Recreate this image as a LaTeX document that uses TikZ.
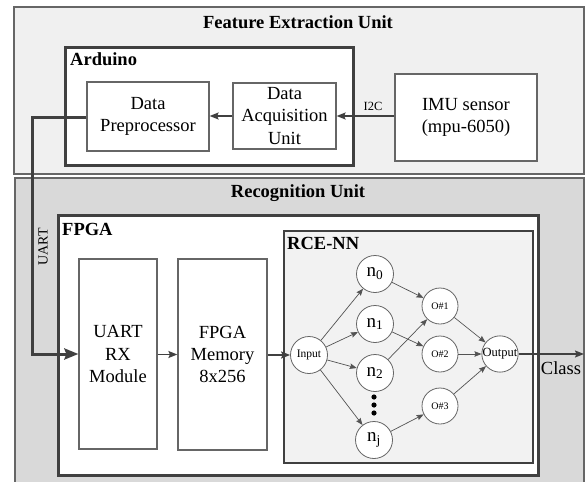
\documentclass[tikz,border=0pt]{standalone}
\usepackage{fontspec}
\setmainfont{Liberation Serif}
\usetikzlibrary{arrows.meta}
\definecolor{fextfill}{HTML}{F0F0F0}
\definecolor{recfill}{HTML}{D9D9D9}
\definecolor{nnfill}{HTML}{F2F2F2}
\definecolor{darkline}{HTML}{404040}
\definecolor{midline}{HTML}{666666}
\begin{document}
\begin{tikzpicture}[x=1pt,y=-1pt,
  txt/.style={font=\fontsize{18.5}{22.2}\selectfont, align=center},
  ttl/.style={font=\fontsize{18.5}{22}\selectfont\bfseries, inner sep=0pt},
  region/.style={draw=midline, line width=1.1pt},
  hw/.style={draw=darkline, line width=3pt, fill=white},
  blk/.style={draw=midline, line width=1.2pt, fill=white, inner sep=0pt, txt},
  neur/.style={circle, draw=midline, line width=0.8pt, fill=white, minimum size=37pt, inner sep=0pt},
  flow/.style={draw=darkline, line width=1.4pt, -{Stealth[length=9pt,width=7pt,inset=1.5pt]}},
  nnarrow/.style={draw=darkline!90, line width=0.7pt, -{Stealth[length=7pt,width=5.5pt,inset=1pt]}},
]
\useasboundingbox (0,0) rectangle (587,482);

% --- Feature Extraction Unit ---
\draw[region, fill=fextfill] (14,7) rectangle (584,174);
\node[ttl, anchor=base] (fetitle) at (298,28) {Feature Extraction Unit};

\draw[hw] (65,47) rectangle (353,165);
\node[ttl, anchor=base west] (ardtitle) at (70,65) {Arduino};

\node[blk, minimum width=122pt, minimum height=69pt] (dp) at (148,116.5) {Data\\Preprocessor};
\node[blk, minimum width=103pt, minimum height=66pt] (daq) at (284.5,116) {Data\\Acquisition\\Unit};
\node[blk, minimum width=142pt, minimum height=87pt] (imu) at (466,117.5) {IMU sensor\\(mpu-6050)};

\draw[flow] (imu.west |- daq.east) -- (daq.east);
\draw[flow] (daq.west) -- (dp.east |- daq.west);
\node[font=\fontsize{12.5}{14}\selectfont, anchor=base] (i2c) at (373,110) {I2C};

% --- Recognition Unit ---
\draw[region, fill=recfill] (15,178) -- (15,490) -- (584,490) -- (584,178) -- cycle;
\node[ttl, anchor=base] (rectitle) at (298,197) {Recognition Unit};

\draw[hw] (58,215) rectangle (538,475);
\node[ttl, anchor=base west] (fpgatitle) at (62,235) {FPGA};

\node[blk, minimum width=78pt, minimum height=190pt] (uartrx) at (118,354) {UART\\RX\\Module};
\node[blk, minimum width=89pt, minimum height=191pt] (mem) at (222.5,354.5) {FPGA\\Memory\\8x256};

\draw[draw=darkline, line width=2pt, fill=nnfill] (284,231) rectangle (533,463);
\node[ttl, anchor=base west] (nntitle) at (287,249) {RCE-NN};

% neurons
\node[neur, font=\fontsize{11.5}{13}\selectfont] (in) at (309,355) {Input};
\node[neur, font=\fontsize{19}{22}\selectfont] (n0) at (375,274) {n\textsubscript{0}};
\node[neur, font=\fontsize{19}{22}\selectfont] (n1) at (375,324) {n\textsubscript{1}};
\node[neur, font=\fontsize{19}{22}\selectfont] (n2) at (375,373) {n\textsubscript{2}};
\node[neur, font=\fontsize{19}{22}\selectfont] (nj) at (374,440) {n\textsubscript{j}};
\node[neur, minimum size=36pt, font=\fontsize{10}{12}\selectfont] (o1) at (440,306) {O\#1};
\node[neur, minimum size=36pt, font=\fontsize{10}{12}\selectfont] (o2) at (440,354) {O\#2};
\node[neur, minimum size=36pt, font=\fontsize{10}{12}\selectfont] (o3) at (440,406) {O\#3};
\node[neur, minimum size=36pt, font=\fontsize{12.5}{14}\selectfont] (out) at (500,354) {Output};

\foreach \y in {397,405,413} \fill[black] (374,\y) circle (2.6pt);

\draw[nnarrow] (in) -- (n0);
\draw[nnarrow] (in) -- (n1);
\draw[nnarrow] (in) -- (n2);
\draw[nnarrow] (in) -- (nj);
\draw[nnarrow] (n0) -- (o1);
\draw[nnarrow] (n2) -- (o1);
\draw[nnarrow] (n1) -- (o2);
\draw[nnarrow] (nj) -- (o3);
\draw[nnarrow] (o1) -- (out);
\draw[nnarrow] (o2) -- (out);
\draw[nnarrow] (o3) -- (out);

% flows in FPGA
\draw[flow] (uartrx.east |- mem.west) -- (mem.west);
\draw[flow] (mem.east |- in.west) -- (in.west);

% output
\coordinate (classend) at (584,354);
\draw[flow] (out.east) -- (classend);
\node[txt, anchor=base] (classlbl) at (561,374) {Class};

% UART link
\coordinate (ubend1) at (32,117);
\coordinate (ubend2) at (32,354);
\draw[draw=darkline, line width=3pt, -{Stealth[length=14pt,width=11pt,inset=2pt]}] (dp.west |- ubend1) -- (ubend1) -- (ubend2) -- (uartrx.west |- ubend2);
\node[rotate=90, font=\fontsize{14}{16}\selectfont, inner sep=0pt] (uartlbl) at (43,247) {UART};
\end{tikzpicture}
\end{document}
